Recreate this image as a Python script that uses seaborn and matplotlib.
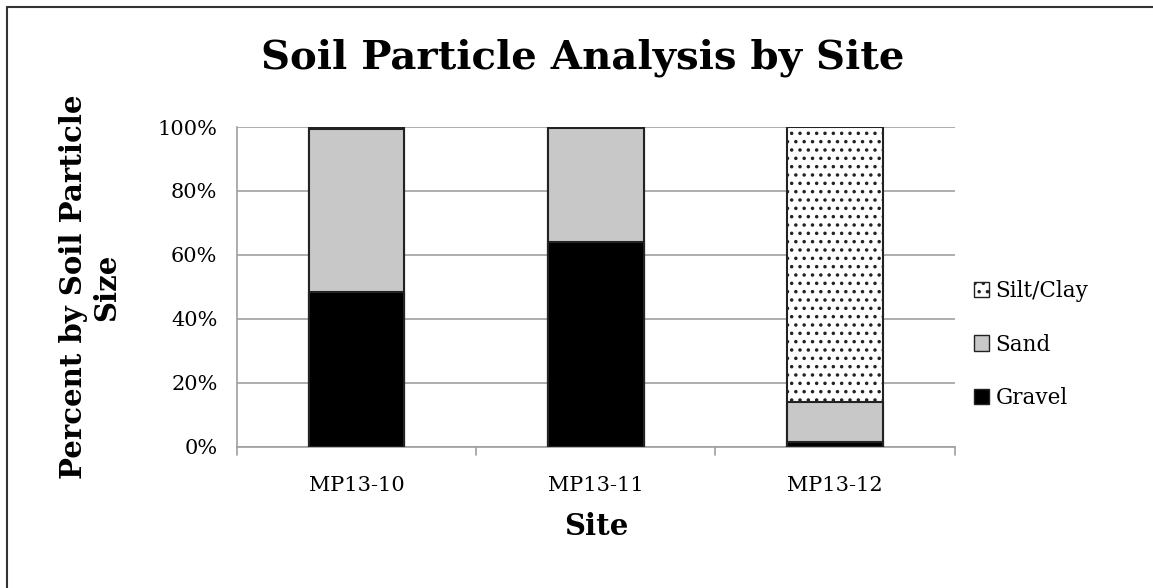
import numpy as np
import pandas as pd
import matplotlib
matplotlib.use("Agg")
import matplotlib.pyplot as plt
import seaborn as sns
from matplotlib.patches import Patch
from matplotlib.lines import Line2D

sites = ["MP13-10", "MP13-11", "MP13-12"]
gravel = [48.4, 64.1, 1.6]
sand = [50.9, 35.7, 12.5]
silt_clay = [0.7, 0.2, 85.9]

sns.set_style("white")
plt.rcParams["font.family"] = ["DejaVu Serif"]
plt.rcParams["hatch.linewidth"] = 1.3
plt.rcParams["text.color"] = "black"
plt.rcParams["xtick.color"] = "black"
plt.rcParams["ytick.color"] = "black"
plt.rcParams["axes.labelcolor"] = "black"

df = pd.DataFrame({"site": sites, "gravel": gravel, "sand": sand, "silt": silt_clay})
df["g_top"] = df["gravel"]
df["s_top"] = df["gravel"] + df["sand"]
df["t_top"] = df["s_top"] + df["silt"]

fig = plt.figure(figsize=(11.53, 5.88), dpi=100)
ax = fig.add_axes([0.2055, 0.240, 0.6225, 0.544])

edge = "#222222"
sns.barplot(data=df, x="site", y="t_top", color="white", edgecolor=edge,
            linewidth=1.5, width=0.4, hatch="..", ax=ax, zorder=3)
sns.barplot(data=df, x="site", y="s_top", color="#c8c8c8", edgecolor=edge,
            linewidth=1.5, width=0.4, ax=ax, zorder=3)
sns.barplot(data=df, x="site", y="g_top", color="black", edgecolor=edge,
            linewidth=1.5, width=0.4, ax=ax, zorder=3)

ax.set_ylim(0, 100)
ax.set_xlim(-0.5, 2.5)
ax.set_yticks(np.arange(0, 101, 20))
ax.set_yticklabels([f"{v}%" for v in range(0, 101, 20)], fontsize=15)
ax.set_xticks(range(3))
ax.set_xticklabels(sites, fontsize=15)
ax.tick_params(axis="x", length=0, pad=21)
ax.tick_params(axis="y", length=8, color="#a0a0a0", labelcolor="black", width=1.2,
               direction="out", pad=6)
ax.yaxis.grid(True, color="#a0a0a0", linewidth=1.2, zorder=0)
ax.set_axisbelow(True)
for s in ["top", "right"]:
    ax.spines[s].set_visible(False)
for s in ["left", "bottom"]:
    ax.spines[s].set_color("#a0a0a0")
    ax.spines[s].set_linewidth(1.2)

# category boundary ticks on the x axis
for xb in [-0.5, 0.5, 1.5, 2.5]:
    ax.plot([xb, xb], [0, -2.5], color="#a0a0a0", lw=1.2, clip_on=False)

ax.set_xlabel("Site", fontsize=21, fontweight="bold", labelpad=12)
ax.set_ylabel("Percent by Soil Particle\nSize", fontsize=21, fontweight="bold", labelpad=26)
fig.suptitle("Soil Particle Analysis by Site", fontsize=29, fontweight="bold",
             x=0.505, y=0.935)

handles = [
    Patch(facecolor="white", edgecolor=edge, hatch="..", label="Silt/Clay"),
    Patch(facecolor="#c8c8c8", edgecolor=edge, label="Sand"),
    Patch(facecolor="black", edgecolor=edge, label="Gravel"),
]
ax.legend(handles=handles, loc="center left", bbox_to_anchor=(1.0, 0.32),
          frameon=False, fontsize=15.5, handlelength=0.7, handleheight=0.7,
          handletextpad=0.3, labelspacing=1.45)

x0, y0 = 7 / 1153, 1 - 7 / 588
fig.add_artist(Line2D([x0, 1], [y0, y0], transform=fig.transFigure, color="#333333", lw=1.5))
fig.add_artist(Line2D([x0, x0], [0, y0], transform=fig.transFigure, color="#333333", lw=1.5))

fig.savefig("out.png", dpi=100)
